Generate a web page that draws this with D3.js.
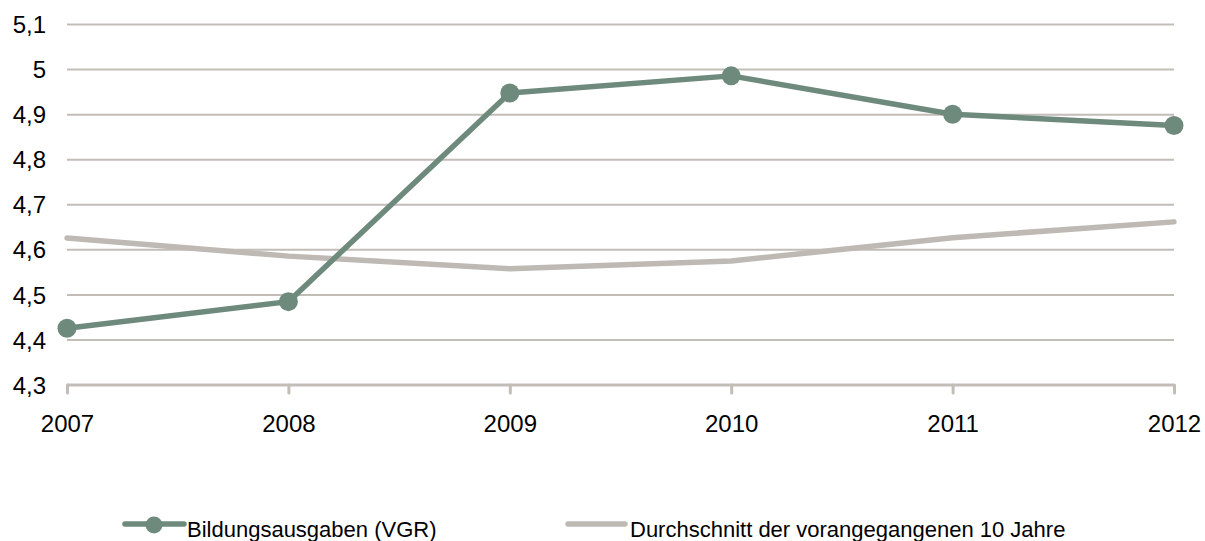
<!DOCTYPE html>
<html>
<head>
<meta charset="utf-8">
<script src="https://cdn.jsdelivr.net/npm/d3@7"></script>
<style>
  body { margin: 0; background: #fff; }
  text { font-family: "Liberation Sans", Arial, sans-serif; fill: #000; }
</style>
</head>
<body>
<script>
// Bildungsausgaben vs. 10-Jahres-Durchschnitt
var years = [2007, 2008, 2009, 2010, 2011, 2012];
var bildung = [4.426, 4.485, 4.948, 4.986, 4.901, 4.876];
var durchschnitt = [4.626, 4.586, 4.558, 4.575, 4.627, 4.662];
var yTicks = [4.3, 4.4, 4.5, 4.6, 4.7, 4.8, 4.9, 5.0, 5.1];
var seriesNames = ["Bildungsausgaben (VGR)", "Durchschnitt der vorangegangenen 10 Jahre"];

var width = 1205, height = 541,
    green = "#6e8a7c", grey = "#bfb9b4", gridHex = "#c3bdb8";

var svg = d3.select("body").append("svg")
    .attr("width", width)
    .attr("height", height);

var x = d3.scalePoint().domain(years).range([67, 1174]);
var y = d3.scaleLinear().domain([4.3, 5.1]).range([385, 24.5]);

var fmt = function(d) { return d3.format(".1~f")(d).replace(".", ","); };

// gridlines
svg.append("g").selectAll("line")
    .data(yTicks.filter(function(d) { return d > 4.3; }))
    .enter().append("line")
    .attr("x1", 67).attr("x2", 1174)
    .attr("y1", function(d) { return y(d); })
    .attr("y2", function(d) { return y(d); })
    .attr("stroke", gridHex)
    .attr("stroke-width", 2);

// y labels
svg.append("g").selectAll("text")
    .data(yTicks)
    .enter().append("text")
    .attr("x", 46)
    .attr("y", function(d) { return y(d); })
    .attr("dy", "0.36em")
    .attr("text-anchor", "end")
    .style("font-size", "24px")
    .text(fmt);

// x axis
var xAxis = svg.append("g").attr("transform", "translate(0," + y(4.3) + ")")
    .call(d3.axisBottom(x).tickSize(8).tickPadding(22).tickFormat(d3.format("d")));
xAxis.select(".domain").attr("stroke", gridHex).attr("stroke-width", 3)
    .attr("d", "M67,0H1174");
xAxis.selectAll(".tick line").attr("stroke", gridHex).attr("stroke-width", 3)
    .attr("stroke-linecap", "round");
xAxis.selectAll(".tick text").style("font-size", "24px")
    .style("font-family", "'Liberation Sans', Arial, sans-serif").attr("fill", "#000");

var line = d3.line()
    .x(function(d, i) { return x(years[i]); })
    .y(function(d) { return y(d); });

svg.append("path").datum(durchschnitt)
    .attr("d", line)
    .attr("fill", "none")
    .attr("stroke", grey)
    .attr("stroke-width", 5.5)
    .attr("stroke-linecap", "round")
    .attr("stroke-linejoin", "round");

svg.append("path").datum(bildung)
    .attr("d", line)
    .attr("fill", "none")
    .attr("stroke", green)
    .attr("stroke-width", 5.5)
    .attr("stroke-linejoin", "round");

svg.append("g").selectAll("circle")
    .data(bildung)
    .enter().append("circle")
    .attr("cx", function(d, i) { return x(years[i]); })
    .attr("cy", function(d) { return y(d); })
    .attr("r", 9.5)
    .attr("fill", green);

// legend
var leg = svg.append("g");
leg.append("line").attr("x1", 125).attr("x2", 184).attr("y1", 524).attr("y2", 524)
    .attr("stroke", green).attr("stroke-width", 5.5).attr("stroke-linecap", "round");
leg.append("circle").attr("cx", 154).attr("cy", 525).attr("r", 8.5).attr("fill", green);
leg.append("text").attr("x", 187).attr("y", 537)
    .style("font-size", "22px").text(seriesNames[0]);

leg.append("line").attr("x1", 568).attr("x2", 625).attr("y1", 524).attr("y2", 524)
    .attr("stroke", grey).attr("stroke-width", 5.5).attr("stroke-linecap", "round");
leg.append("text").attr("x", 630).attr("y", 537)
    .style("font-size", "22px").text(seriesNames[1]);
</script>
</body>
</html>
